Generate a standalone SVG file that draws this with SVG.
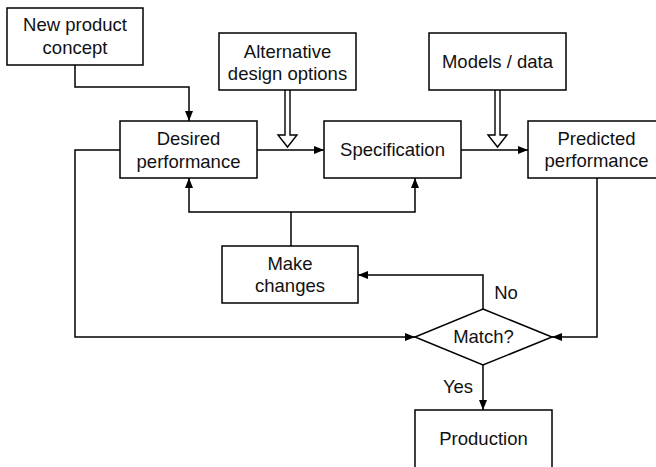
<svg xmlns="http://www.w3.org/2000/svg" width="656" height="467" viewBox="0 0 656 467">
  <style>
    .box { fill: #fff; stroke: #000; stroke-width: 1.5; }
    .line { fill: none; stroke: #000; stroke-width: 1.5; }
    .hollow { fill: #fff; stroke: #000; stroke-width: 1.4; stroke-linejoin: miter; }
    text { font-family: "Liberation Sans", Arial, sans-serif; font-size: 18.5px; fill: #111; text-anchor: middle; }
  </style>
  <defs>
    <marker id="arrow" viewBox="0 0 10 8" refX="10" refY="4" markerWidth="10" markerHeight="8" markerUnits="userSpaceOnUse" orient="auto">
      <path d="M0,0 L10,4 L0,8 Z" fill="#000"/>
    </marker>
  </defs>
  <rect width="656" height="467" fill="#fff"/>

  <g id="connectors">
    <!-- concept to desired performance -->
    <path class="line" d="M75,65 V87 H189 V121" marker-end="url(#arrow)"/>
    <!-- desired performance to specification -->
    <path class="line" d="M257,150 H324" marker-end="url(#arrow)"/>
    <!-- specification to predicted performance -->
    <path class="line" d="M461,150 H528" marker-end="url(#arrow)"/>
    <!-- predicted performance to match -->
    <path class="line" d="M597,178 V337 H552" marker-end="url(#arrow)"/>
    <!-- desired performance to match -->
    <path class="line" d="M120,150 H75 V337 H415" marker-end="url(#arrow)"/>
    <!-- match: no -> make changes -->
    <path class="line" d="M483,309 V275 H358" marker-end="url(#arrow)"/>
    <!-- match: yes -> production -->
    <path class="line" d="M483,365 V410" marker-end="url(#arrow)"/>
    <!-- make changes feedback -->
    <path class="line" d="M291,246 V212"/>
    <path class="line" d="M291,212 H189 V178" marker-end="url(#arrow)"/>
    <path class="line" d="M291,212 H415 V178" marker-end="url(#arrow)"/>
    <!-- hollow input arrows -->
    <path class="hollow" d="M285,90 V135 H278 L287.5,147 L297,135 H290 V90"/>
    <path class="hollow" d="M495,90 V135 H488 L497.5,147 L507,135 H500 V90"/>
  </g>

  <g id="concept">
    <rect class="box" x="7" y="8" width="136" height="57"/>
    <text x="75" y="31">New product</text>
    <text x="75" y="54">concept</text>
  </g>
  <g id="alternatives">
    <rect class="box" x="219" y="33" width="137" height="57"/>
    <text x="287.5" y="57.5">Alternative</text>
    <text x="287.5" y="80">design options</text>
  </g>
  <g id="models">
    <rect class="box" x="429" y="33" width="137" height="57"/>
    <text x="497.5" y="68">Models / data</text>
  </g>
  <g id="desired">
    <rect class="box" x="120" y="121" width="137" height="57"/>
    <text x="188.5" y="145">Desired</text>
    <text x="188.5" y="167.5">performance</text>
  </g>
  <g id="specification">
    <rect class="box" x="324" y="121" width="137" height="57"/>
    <text x="392.5" y="156">Specification</text>
  </g>
  <g id="predicted">
    <rect class="box" x="528" y="121" width="137" height="57"/>
    <text x="596.5" y="144.5">Predicted</text>
    <text x="596.5" y="167">performance</text>
  </g>
  <g id="make-changes">
    <rect class="box" x="222" y="246" width="136" height="57"/>
    <text x="290" y="269.5">Make</text>
    <text x="290" y="291.5">changes</text>
  </g>
  <g id="match">
    <path class="box" d="M483,309 L552,337 L483,365 L415,337 Z"/>
    <text x="483.5" y="343">Match?</text>
  </g>
  <g id="labels">
    <text x="506" y="299">No</text>
    <text x="458" y="393">Yes</text>
  </g>
  <g id="production">
    <rect class="box" x="415" y="410" width="137" height="60"/>
    <text x="483.5" y="445">Production</text>
  </g>
</svg>
